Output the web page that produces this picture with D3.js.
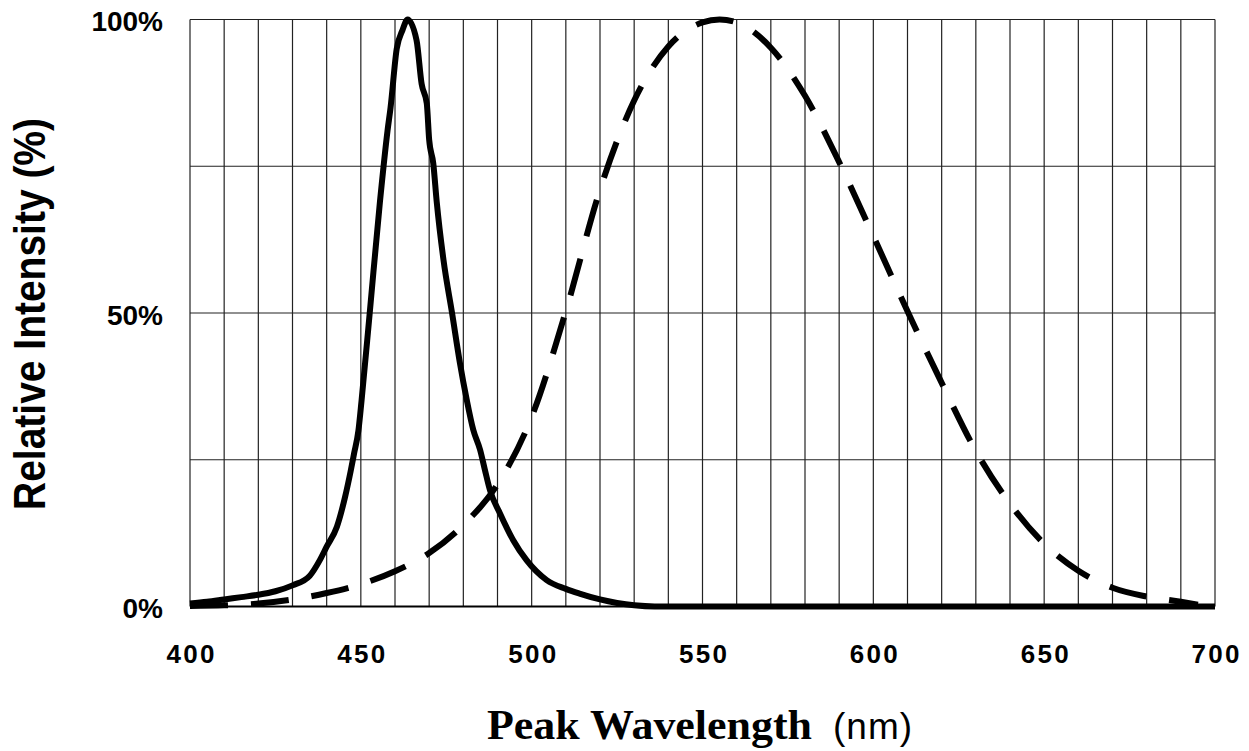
<!DOCTYPE html>
<html>
<head>
<meta charset="utf-8">
<script src="https://cdn.jsdelivr.net/npm/d3@7"></script>
<style>
  body { margin: 0; background: #fff; }
</style>
</head>
<body>
<div class="board"></div>
<script>
(function() {

  // solid curve: LED emission (nm, %)
  var blueNm  = [400, 405, 410, 415, 420, 425, 430, 435, 438, 440, 443, 445.4, 447, 448, 449.3, 450.2, 452.6, 455.6, 457.8, 458.7, 460.5, 462.2, 463.7, 466.3, 467.8, 469.3, 470, 471.2, 472.2, 474.2, 476.7, 479, 481, 482.9, 484.9, 486.3, 487.8, 490.7, 494.6, 498.5, 504.4, 510, 514, 520, 525, 530, 536, 700];
  var bluePct = [0.5, 0.8, 1.2, 1.6, 2.0, 2.6, 3.6, 5.2, 7.9, 10.2, 13.6, 18.7, 23, 26, 30, 35, 50, 69, 81, 85, 95, 98.2, 100, 96.5, 89, 85.7, 79.5, 75.5, 69, 59, 50, 41.5, 35.2, 30.1, 26.7, 23.3, 19.8, 15.9, 11.3, 7.9, 4.5, 3.0, 2.2, 1.2, 0.6, 0.2, 0, 0];

  // dashed curve: eye sensitivity (nm, %)
  var eyeNm  = [400, 410, 420, 430, 440, 450, 460, 470, 480, 490, 500, 510, 520, 530, 540, 550, 555, 560, 570, 580, 590, 600, 610, 620, 630, 640, 650, 660, 670, 680, 690, 695];
  var eyePct = [0.1, 0.2, 0.5, 1.2, 2.3, 3.8, 6.0, 9.1, 13.9, 20.8, 32.3, 50.3, 71.0, 86.2, 95.4, 99.5, 100, 99.5, 95.2, 87.0, 75.7, 63.1, 50.3, 38.1, 26.5, 17.5, 10.7, 6.1, 3.2, 1.7, 0.8, 0.3];

  var xTicks = [400, 450, 500, 550, 600, 650, 700];
  var yTicks = [0, 50, 100];
  var yGrid = [0, 25, 50, 75, 100];
  var xGrid = d3.range(400, 701, 10);

  var options = { width: 1249, height: 751 };
  var margin = { top: 19.5, right: 34, bottom: 144.5, left: 190 };
  var w = options.width - margin.left - margin.right;
  var h = options.height - margin.top - margin.bottom;

  var svg = d3.select('.board')
    .append('svg')
    .attr('width', options.width)
    .attr('height', options.height)
    .style('display', 'block')
    .style('background', '#fff');

  var g = svg.append('g')
    .attr('transform', 'translate(' + margin.left + ',' + margin.top + ')');

  var x = d3.scaleLinear().domain([400, 700]).range([0, w]);
  var y = d3.scaleLinear().domain([0, 100]).range([h, 0]);

  // grid
  g.selectAll('line.vgrid')
    .data(xGrid)
    .enter()
    .append('line')
    .attr('class', 'vgrid')
    .attr('x1', function(d) { return x(d); })
    .attr('x2', function(d) { return x(d); })
    .attr('y1', 0)
    .attr('y2', h)
    .style('stroke', '#222')
    .style('stroke-width', 1.2);

  g.selectAll('line.hgrid')
    .data(yGrid)
    .enter()
    .append('line')
    .attr('class', 'hgrid')
    .attr('x1', 0)
    .attr('x2', w)
    .attr('y1', function(d) { return y(d); })
    .attr('y2', function(d) { return y(d); })
    .style('stroke', function(d) { return d === 0 ? '#000' : '#222'; })
    .style('stroke-width', function(d) { return d === 0 ? 2 : 1.2; });

  // curves
  var line = d3.line()
    .x(function(d) { return x(d[0]); })
    .y(function(d) { return y(d[1]); })
    .curve(d3.curveMonotoneX);

  g.append('path')
    .datum(eyeNm.map(function(d, i) { return [d, eyePct[i]]; }))
    .attr('d', line)
    .style('fill', 'none')
    .style('stroke', '#000')
    .style('stroke-width', 6)
    .style('stroke-dasharray', '38,23');

  g.append('path')
    .datum(blueNm.map(function(d, i) { return [d, bluePct[i]]; }))
    .attr('d', line)
    .style('fill', 'none')
    .style('stroke', '#000')
    .style('stroke-width', 6)
    .style('stroke-linejoin', 'round');

  // axes
  var xAxis = g.append('g')
    .attr('transform', 'translate(0,' + h + ')')
    .call(d3.axisBottom(x).tickValues(xTicks).tickSize(0).tickPadding(38));
  xAxis.select('.domain').remove();
  xAxis.selectAll('text')
    .attr('textLength', 48)
    .attr('lengthAdjust', 'spacing')
    .style('font-family', '"Liberation Sans", Arial, sans-serif')
    .style('font-weight', 'bold')
    .style('font-size', '26px')
    .style('fill', '#000');

  var yAxis = g.append('g')
    .call(d3.axisLeft(y).tickValues(yTicks).tickSize(0).tickPadding(27)
      .tickFormat(function(d) { return d + '%'; }));
  yAxis.select('.domain').remove();
  yAxis.selectAll('text')
    .attr('dy', '0.4em')
    .style('font-family', '"Liberation Sans", Arial, sans-serif')
    .style('font-weight', 'bold')
    .style('font-size', '28px')
    .style('fill', '#000');

  // titles
  svg.append('text')
    .attr('transform', 'translate(45,314) rotate(-90)')
    .attr('text-anchor', 'middle')
    .attr('textLength', 392)
    .attr('lengthAdjust', 'spacingAndGlyphs')
    .style('font-family', '"Liberation Sans", Arial, sans-serif')
    .style('font-weight', 'bold')
    .style('font-size', '45px')
    .text('Relative Intensity  (%)');

  var xt = svg.append('text')
    .attr('x', 487)
    .attr('y', 739);
  xt.append('tspan')
    .attr('textLength', 325)
    .attr('lengthAdjust', 'spacingAndGlyphs')
    .style('font-family', '"Liberation Serif", "Times New Roman", serif')
    .style('font-weight', 'bold')
    .style('font-size', '42px')
    .text('Peak Wavelength');
  xt.append('tspan')
    .attr('x', 833)
    .style('font-family', '"Liberation Sans", Arial, sans-serif')
    .style('font-size', '37px')
    .style('letter-spacing', '1px')
    .text('(nm)');

})();
</script>
</body>
</html>
